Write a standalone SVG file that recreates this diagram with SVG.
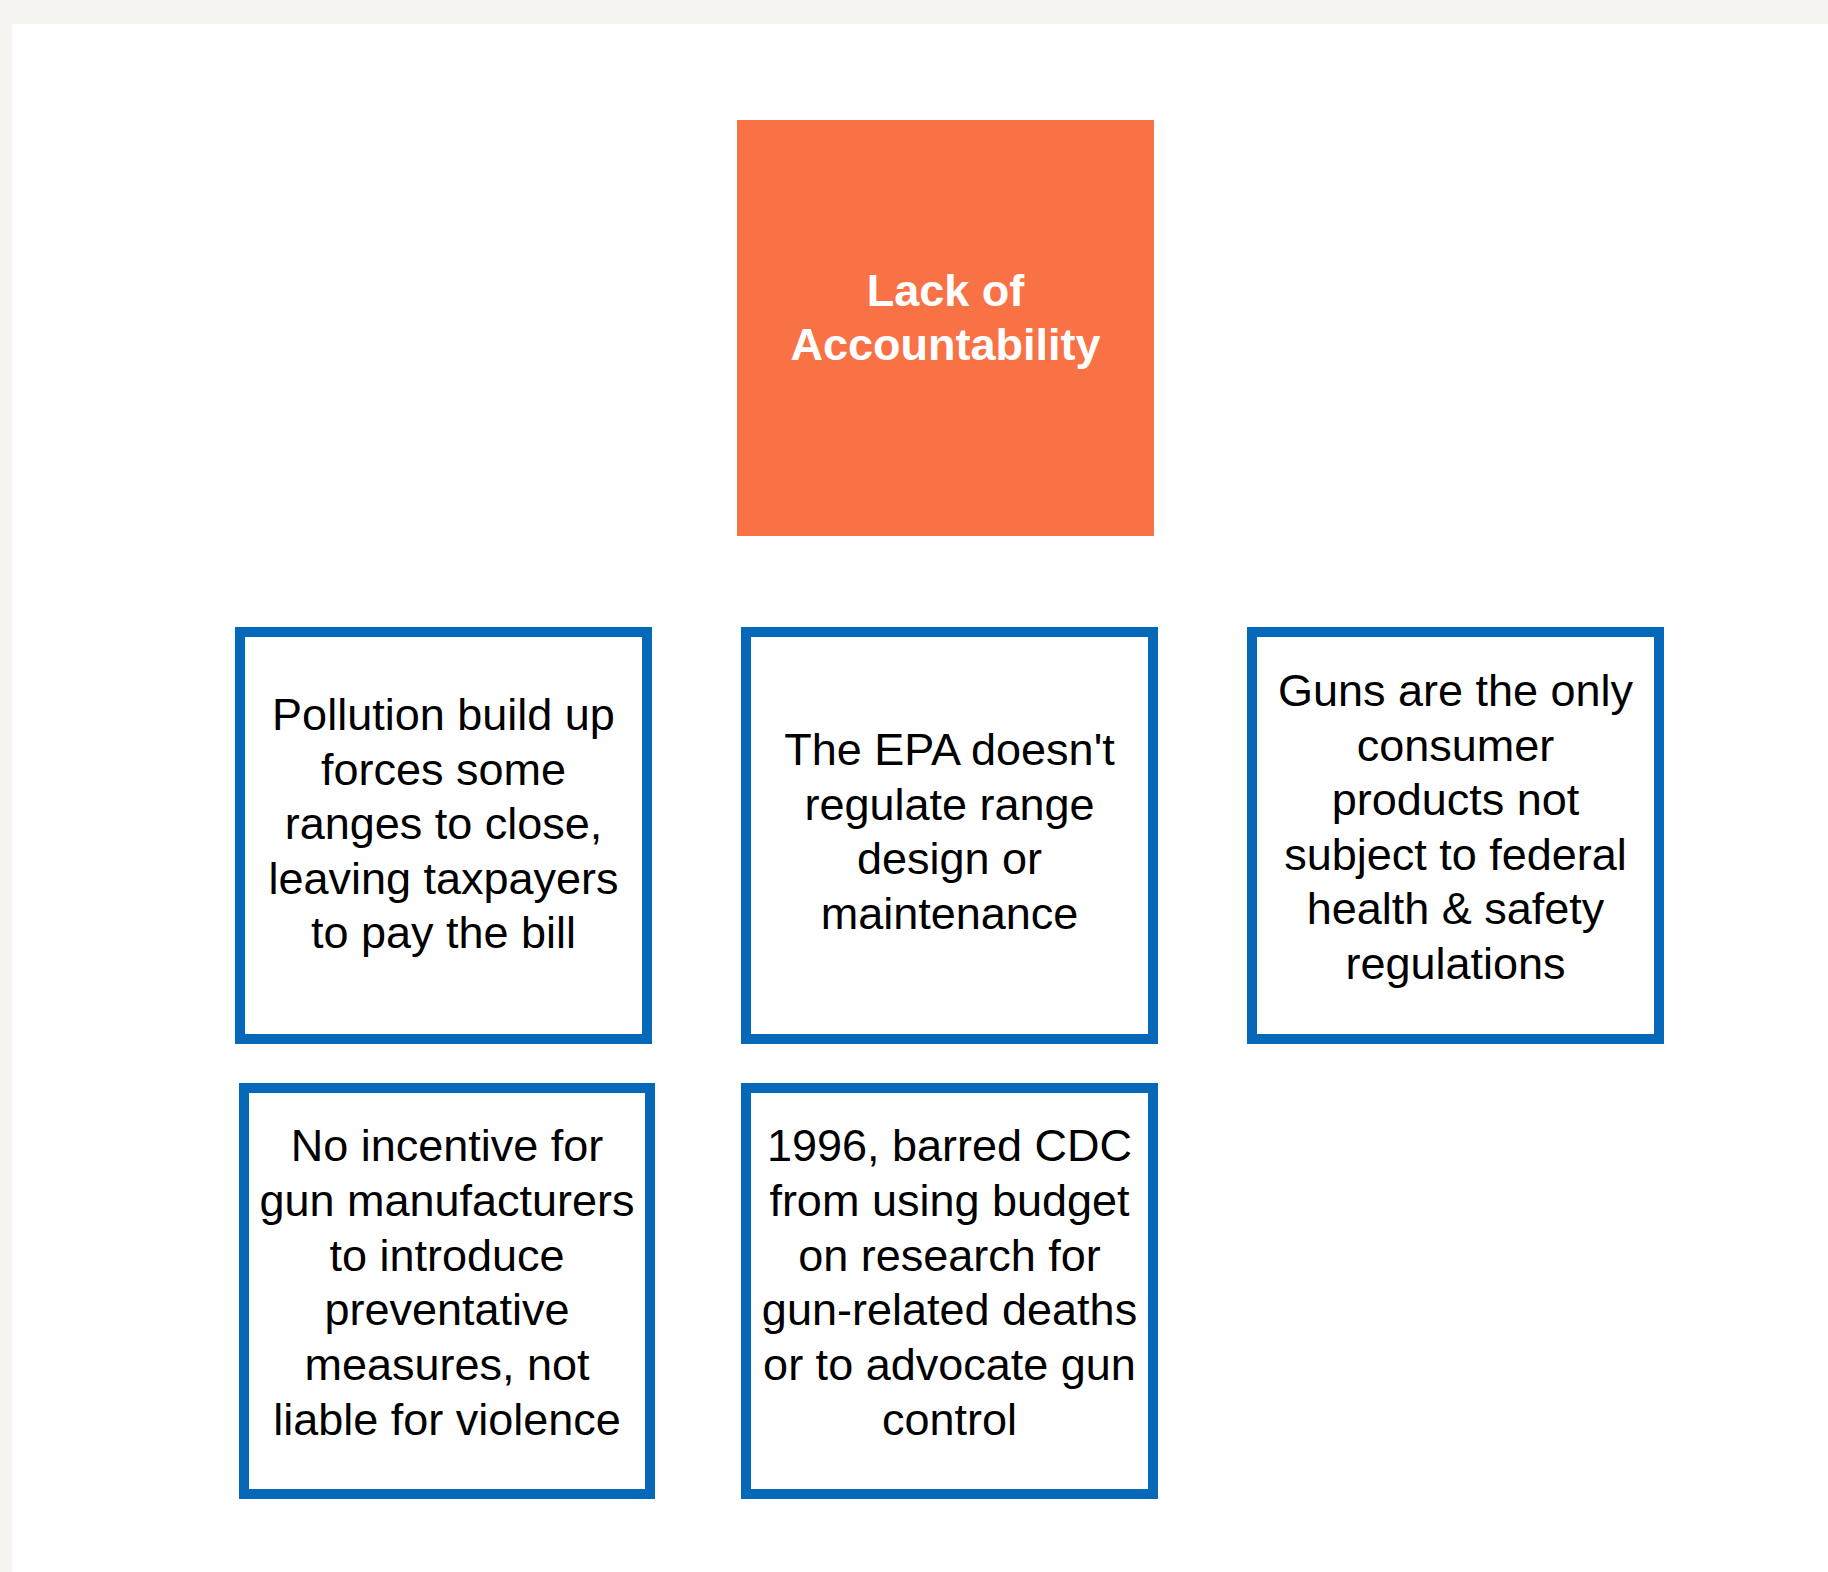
<svg xmlns="http://www.w3.org/2000/svg" width="1828" height="1572" viewBox="0 0 1828 1572">
<style>
.box{fill:#ffffff;stroke:#0668B8;stroke-width:10}
.t{font-family:"Liberation Sans",Arial,sans-serif;font-size:45px;fill:#000000;text-anchor:middle}
.h{font-family:"Liberation Sans",Arial,sans-serif;font-size:45px;font-weight:bold;fill:#ffffff;text-anchor:middle}
</style>
<rect x="0" y="0" width="1828" height="1572" fill="#F5F4F0"/>
<rect x="12" y="24" width="1816" height="1548" fill="#ffffff"/>
<g id="connectors"></g>
<g id="root">
<rect x="737" y="120" width="417" height="416" fill="#F97245"/>
<text class="h" x="945.5" y="306">Lack of</text>
<text class="h" x="945.5" y="360">Accountability</text>
</g>
<g id="node-pollution">
<rect class="box" x="240" y="632" width="407" height="407"/>
<text class="t" x="443.5" y="730">Pollution build up</text>
<text class="t" x="443.5" y="784.5">forces some</text>
<text class="t" x="443.5" y="839">ranges to close,</text>
<text class="t" x="443.5" y="893.5">leaving taxpayers</text>
<text class="t" x="443.5" y="948">to pay the bill</text>
</g>
<g id="node-epa">
<rect class="box" x="746" y="632" width="407" height="407"/>
<text class="t" x="949.5" y="765">The EPA doesn't</text>
<text class="t" x="949.5" y="819.5">regulate range</text>
<text class="t" x="949.5" y="874">design or</text>
<text class="t" x="949.5" y="928.5">maintenance</text>
</g>
<g id="node-guns">
<rect class="box" x="1252" y="632" width="407" height="407"/>
<text class="t" x="1455.5" y="706">Guns are the only</text>
<text class="t" x="1455.5" y="760.6">consumer</text>
<text class="t" x="1455.5" y="815.2">products not</text>
<text class="t" x="1455.5" y="869.8">subject to federal</text>
<text class="t" x="1455.5" y="924.4">health &amp; safety</text>
<text class="t" x="1455.5" y="979">regulations</text>
</g>
<g id="node-incentive">
<rect class="box" x="244" y="1088" width="406" height="406"/>
<text class="t" x="447" y="1161">No incentive for</text>
<text class="t" x="447" y="1215.8">gun manufacturers</text>
<text class="t" x="447" y="1270.6">to introduce</text>
<text class="t" x="447" y="1325.4">preventative</text>
<text class="t" x="447" y="1380.2">measures, not</text>
<text class="t" x="447" y="1435">liable for violence</text>
</g>
<g id="node-cdc">
<rect class="box" x="746" y="1088" width="407" height="406"/>
<text class="t" x="949.5" y="1161">1996, barred CDC</text>
<text class="t" x="949.5" y="1215.8">from using budget</text>
<text class="t" x="949.5" y="1270.6">on research for</text>
<text class="t" x="949.5" y="1325.4">gun-related deaths</text>
<text class="t" x="949.5" y="1380.2">or to advocate gun</text>
<text class="t" x="949.5" y="1435">control</text>
</g>
</svg>
